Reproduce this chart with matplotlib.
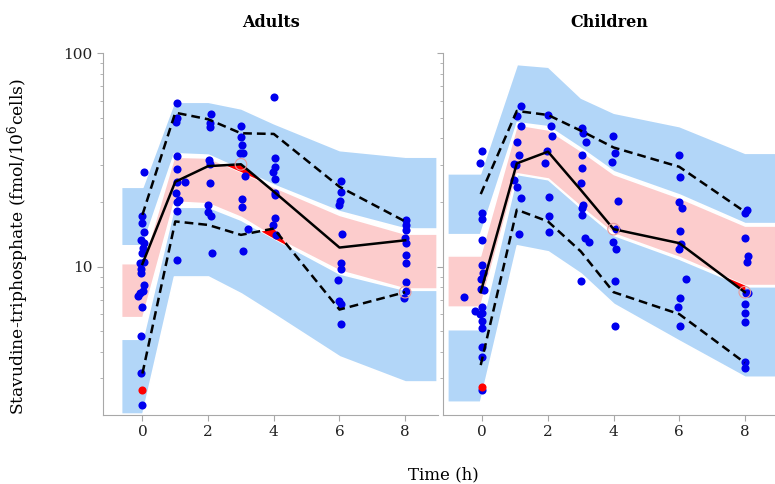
import numpy as np
import matplotlib
matplotlib.use('Agg')
import matplotlib.pyplot as plt
from matplotlib.ticker import LogLocator, NullFormatter, FixedFormatter, FixedLocator

plt.rcParams['font.family'] = 'DejaVu Serif'
plt.rcParams['mathtext.fontset'] = 'dejavuserif'

# ---- observed concentrations (fmol/10^6 cells) ----
adults_t = [0.04, -0.01, 0.0, 0.05, -0.04, 0.04, 0.01, -0.01, 0.05, -0.07,
            -0.04, -0.04, 0.05, 0.02, -0.06, -0.13, 0.0, -0.04, -0.04, 0.0,
            1.05, 1.05, 1.02, 1.05, 1.05, 1.05, 1.31, 1.02, 1.10, 1.05, 1.05, 1.05,
            2.08, 2.05, 2.05, 2.03, 2.07, 2.05, 2.0, 2.0, 2.08, 2.13,
            3.01, 3.01, 3.04, 2.97, 3.07, 3.13, 3.04, 3.04, 3.22, 3.05,
            4.0, 4.03, 4.03, 3.98, 4.03, 4.03, 4.03, 4.03, 3.98, 4.08,
            6.04, 6.04, 6.02, 5.99, 6.08, 6.04, 6.04, 5.95, 5.99, 6.04, 6.04,
            8.02, 8.02, 8.02, 7.99, 8.02, 8.02, 8.02, 8.02, 8.02, 7.95]
adults_c = [27.9, 17.3, 16.0, 14.5, 13.4, 12.9, 12.2, 11.6, 10.5, 10.4,
            9.8, 9.3, 8.2, 7.7, 7.5, 7.3, 6.5, 4.75, 3.18, 2.24,
            58.3, 49.6, 47.7, 33.0, 28.6, 25.0, 24.9, 22.1, 20.5, 20.2, 18.3, 10.7,
            51.8, 47.0, 45.3, 31.6, 30.3, 24.6, 19.5, 18.1, 17.2, 11.6,
            45.7, 40.7, 37.2, 34.0, 34.0, 26.6, 20.7, 19.0, 15.0, 11.8,
            62.3, 32.4, 29.4, 27.9, 25.7, 22.1, 21.7, 17.0, 15.7, 14.1,
            25.3, 22.3, 20.4, 19.5, 14.2, 10.4, 9.8, 8.66, 6.93, 6.68, 5.37,
            16.6, 15.7, 14.9, 13.7, 12.96, 11.35, 10.4, 8.45, 7.7, 7.1]

children_t = [0.0, -0.07, 0.0, 0.0, 0.0, 0.0, 0.03, -0.05, -0.05, 0.06,
              -0.56, -0.22, 0.0, -0.07, 0.0, 0.0, 0.0, 0.0, 0.0, 0.0,
              1.17, 1.05, 1.17, 1.05, 1.13, 0.95, 1.03, 0.95, 1.05, 1.17, 1.13,
              2.01, 2.09, 2.13, 1.98, 1.91, 2.03, 2.03, 2.03,
              3.05, 3.08, 3.16, 3.03, 3.05, 3.0, 3.08, 3.03, 3.05, 3.13, 3.26, 3.0,
              3.99, 4.05, 3.95, 4.12, 4.08, 3.99, 4.07, 4.04, 4.04,
              5.99, 6.03, 5.99, 6.07, 6.03, 6.05, 5.99, 6.21, 6.03, 5.95, 6.03,
              8.08, 8.02, 8.02, 8.11, 8.07, 8.04, 8.11, 8.02, 8.02, 8.02, 8.02, 8.02]
children_c = [35.0, 30.5, 17.8, 16.7, 13.4, 10.2, 9.37, 8.73, 7.83, 7.78,
              7.24, 6.22, 6.49, 6.0, 6.08, 5.58, 5.14, 4.22, 3.79, 2.64,
              56.7, 50.9, 45.7, 38.5, 33.4, 30.3, 30.0, 25.5, 23.7, 21.1, 14.2,
              51.4, 45.7, 41.0, 35.0, 30.5, 21.3, 17.2, 14.5,
              44.6, 42.5, 38.5, 33.4, 28.9, 24.6, 19.5, 18.8, 17.5, 13.7, 13.0, 8.6,
              41.0, 34.0, 30.9, 20.4, 15.0, 13.0, 12.07, 8.57, 5.29,
              33.4, 26.4, 20.2, 18.8, 14.75, 12.8, 12.07, 8.73, 7.1, 6.49, 5.29,
              18.45, 17.8, 13.6, 11.2, 10.55, 7.5, 7.5, 6.68, 6.08, 5.49, 3.56, 3.36]

# below-limit samples shown in red
adults_blq = ([0.0], [2.64])
children_blq = ([0.0], [2.74])

# ---- observed percentiles (5th, 50th, 95th) ----
adults_pt = [0, 1, 2, 3, 4, 6, 8]
adults_p50 = [10.3, 25.0, 29.6, 30.2, 22.5, 12.3, 13.3]
adults_p95 = [17.5, 52.7, 49.1, 42.2, 41.9, 23.7, 16.3]
adults_p05 = [3.16, 16.3, 15.7, 14.1, 15.1, 6.3, 7.6]

children_pt = [-0.05, 1.05, 2.0, 3.0, 4.0, 6.0, 8.0]
children_p50 = [7.6, 30.5, 34.6, 22.9, 15.0, 12.9, 7.6]
children_p95 = [21.9, 53.7, 51.4, 43.4, 36.2, 29.4, 18.1]
children_p05 = [3.46, 18.5, 16.3, 11.8, 7.6, 6.0, 3.55]

# ---- simulated 95% CI of the percentiles ----
adults_bx = [-0.65, 0, 0.96, 2, 3, 4, 6, 8, 8.96]
adults_hi_top = [23.7, 23.7, 59.3, 59.3, 55.2, 47.0, 35.2, 32.8, 32.8]
adults_hi_bot = [12.6, 12.6, 34.0, 33.5, 28.6, 24.2, 18.2, 15.1, 15.1]
adults_md_top = [10.4, 10.4, 32.8, 32.5, 27.9, 23.7, 17.5, 14.3, 14.3]
adults_md_bot = [5.8, 5.8, 20.2, 19.8, 17.1, 13.8, 9.6, 7.9, 7.9]
adults_lo_top = [4.6, 4.6, 19.1, 19.1, 16.6, 13.6, 9.3, 7.8, 7.8]
adults_lo_bot = [2.05, 2.05, 9.0, 9.0, 7.5, 6.0, 3.8, 2.9, 2.9]

children_bx = [-1.07, -0.07, 1.05, 2, 3, 4, 6, 8, 8.93]
children_hi_top = [27.4, 27.4, 89.1, 86.6, 62.0, 52.7, 45.6, 34.2, 34.2]
children_hi_bot = [14.2, 14.2, 47.5, 45.5, 36.0, 28.0, 21.8, 16.0, 16.0]
children_md_top = [11.3, 11.3, 46.5, 44.0, 35.0, 27.2, 21.1, 15.6, 15.6]
children_md_bot = [6.5, 6.5, 27.4, 25.9, 19.1, 14.3, 11.1, 8.2, 8.2]
children_lo_top = [5.1, 5.1, 27.2, 25.7, 18.9, 14.1, 10.9, 8.1, 8.1]
children_lo_bot = [2.33, 2.33, 12.6, 11.8, 9.3, 6.7, 4.5, 3.05, 3.05]

# percentile points flagged outside their interval
adults_flag = [(adults_pt, adults_p50, 3), (adults_pt, adults_p05, 6)]
children_flag = [(children_pt, children_p50, 4), (children_pt, children_p50, 6)]

blue_band = '#b2d6f8'
pink_band = '#fccccc'


def red_fill(ax, lx, ly, bx, blo, bhi):
    xf = np.linspace(lx[0], lx[-1], 800)
    yl = 10 ** np.interp(xf, lx, np.log10(ly))
    lo = 10 ** np.interp(xf, bx, np.log10(blo))
    hi = 10 ** np.interp(xf, bx, np.log10(bhi))
    ax.fill_between(xf, yl, hi, where=yl > hi, color='red', lw=0, zorder=2, interpolate=True)
    ax.fill_between(xf, yl, lo, where=yl < lo, color='red', lw=0, zorder=2, interpolate=True)


def draw_panel(ax, t, c, blq, pt, p05, p50, p95, bx, bands, flags, title, xmax):
    hi_top, hi_bot, md_top, md_bot, lo_top, lo_bot = bands
    ax.fill_between(bx, hi_bot, hi_top, color=blue_band, ec='white', lw=1.2, zorder=1)
    ax.fill_between(bx, lo_bot, lo_top, color=blue_band, ec='white', lw=1.2, zorder=1)
    ax.fill_between(bx, md_bot, md_top, color=pink_band, ec='white', lw=1.2, zorder=1.5)

    red_fill(ax, pt, p95, bx, hi_bot, hi_top)
    red_fill(ax, pt, p50, bx, md_bot, md_top)
    red_fill(ax, pt, p05, bx, lo_bot, lo_top)

    ax.scatter(t, c, s=34, color='#0000ee', lw=0, zorder=3)
    ax.scatter(blq[0], blq[1], s=34, color='#ff0000', lw=0, zorder=3.5)

    ax.plot(pt, p50, color='black', lw=1.8, zorder=4)
    ax.plot(pt, p95, color='black', lw=1.8, ls=(0, (3.5, 2)), zorder=4)
    ax.plot(pt, p05, color='black', lw=1.8, ls=(0, (3.5, 2)), zorder=4)

    for fx, fy, i in flags:
        ax.scatter([fx[i]], [fy[i]], s=70, facecolor='none', edgecolor='#e89a9a', lw=0.8, zorder=5)

    ax.set_yscale('log')
    ax.set_ylim(2.02, 100)
    ax.set_xlim(-1.2, xmax)
    ax.set_xticks([0, 2, 4, 6, 8])
    ax.yaxis.set_major_locator(FixedLocator([10, 100]))
    ax.yaxis.set_minor_locator(LogLocator(base=10, subs=np.arange(2, 10)))
    ax.yaxis.set_minor_formatter(NullFormatter())
    ax.set_title(title, fontweight='bold', fontsize=11.5, pad=19)
    for s in ['top', 'right']:
        ax.spines[s].set_visible(False)
    for s in ['left', 'bottom']:
        ax.spines[s].set_color('#a8a8a8')
    ax.tick_params(which='both', colors='#a8a8a8', labelcolor='#222222', labelsize=11)
    ax.tick_params(which='major', length=4)
    ax.tick_params(which='minor', length=2.5)


fig = plt.figure(figsize=(7.75, 4.84), dpi=100)
ax1 = fig.add_axes([103 / 775, 1 - 415 / 484, 335 / 775, 361.7 / 484])
ax2 = fig.add_axes([443 / 775, 1 - 415 / 484, 332 / 775, 361.7 / 484])

draw_panel(ax1, adults_t, adults_c, adults_blq, adults_pt, adults_p05, adults_p50, adults_p95,
           adults_bx, (adults_hi_top, adults_hi_bot, adults_md_top, adults_md_bot,
                       adults_lo_top, adults_lo_bot), adults_flag, 'Adults', 9.0)
draw_panel(ax2, children_t, children_c, children_blq, children_pt, children_p05, children_p50,
           children_p95, children_bx, (children_hi_top, children_hi_bot, children_md_top,
                                       children_md_bot, children_lo_top, children_lo_bot),
           children_flag, 'Children', 8.92)

ax1.yaxis.set_major_formatter(FixedFormatter(['10', '100']))
ax2.yaxis.set_major_formatter(NullFormatter())

ax1.set_ylabel('Stavudine-triphosphate (fmol/10$^{6}$cells)', fontsize=12.3)
ax1.yaxis.set_label_coords(-0.215, 0.465)
fig.text(443 / 775, 1 - 475 / 484, 'Time (h)', ha='center', va='center', fontsize=12)

fig.savefig('out.png', dpi=100)
